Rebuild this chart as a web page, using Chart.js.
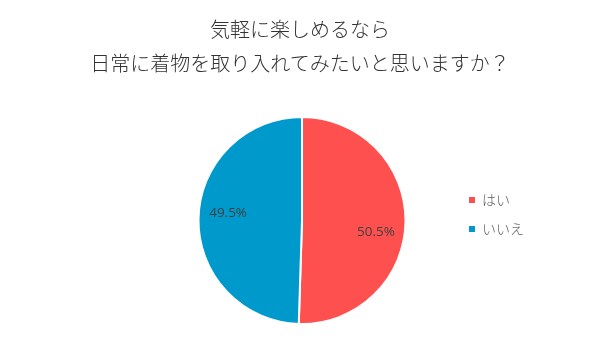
<!DOCTYPE html>
<html><head><meta charset="utf-8">
<script src="https://cdn.jsdelivr.net/npm/chart.js@4/dist/chart.umd.min.js"></script>
<style>
html,body{margin:0;padding:0;background:#fff}
#wrap{position:relative;width:600px;height:360px}
#title{position:absolute;left:0;top:12px;width:600px;text-align:center;font-family:"Noto Sans CJK JP",sans-serif;font-weight:300;font-size:20px;line-height:34px;color:#333}
canvas{position:absolute;left:0;top:0}
</style>
</head><body><div id="wrap"><canvas id="c" width="600" height="360"></canvas><div id="title"></div></div>
<script>
const titleLines = ['気軽に楽しめるなら', '日常に着物を取り入れてみたいと思いますか？'];
const categories = ['はい', 'いいえ'];
const values = [50.5, 49.5];
const colors = ['#FF5050', '#0099CC'];

const titleEl = document.getElementById('title');
titleLines.forEach(t => { const d = document.createElement('div'); d.textContent = t; titleEl.appendChild(d); });

const pctLabels = {
  id: 'pctLabels',
  afterDatasetsDraw(chart) {
    const ctx = chart.ctx;
    const meta = chart.getDatasetMeta(0);
    ctx.save();
    ctx.font = '13.5px "Open Sans", sans-serif';
    ctx.fillStyle = '#404040';
    ctx.textAlign = 'center';
    ctx.textBaseline = 'middle';
    meta.data.forEach((arc, i) => {
      const p = arc.getProps(['x','y','startAngle','endAngle','outerRadius'], true);
      const mid = (p.startAngle + p.endAngle) / 2 + 6.5 * Math.PI / 180;
      const r = p.outerRadius * 0.72;
      ctx.fillText(values[i].toFixed(1) + '%', p.x + Math.cos(mid) * r, p.y + Math.sin(mid) * r + 2);
    });
    ctx.restore();
  }
};

const legendShift = {
  id: 'legendShift',
  afterLayout(chart) {
    if (chart.legend) { chart.legend.top -= 6; chart.legend.bottom -= 6; }
  }
};

new Chart(document.getElementById('c'), {
  type: 'pie',
  data: { labels: categories, datasets: [{ data: values, backgroundColor: colors, borderColor: '#ffffff', borderWidth: 2 }] },
  options: {
    responsive: false,
    animation: false,
    layout: { padding: { left: 150, right: 66, top: 116, bottom: 35 } },
    plugins: {
      tooltip: { enabled: false },
      title: { display: false },
      legend: {
        position: 'right',
        labels: {
          boxWidth: 6, boxHeight: 6, padding: 15,
          color: '#595959',
          font: { family: '"Noto Sans CJK JP", sans-serif', size: 14, weight: '300' },
          generateLabels(chart) {
            const items = Chart.overrides.pie.plugins.legend.labels.generateLabels(chart);
            items.forEach(it => { it.lineWidth = 0; it.strokeStyle = it.fillStyle; });
            return items;
          }
        }
      }
    }
  },
  plugins: [pctLabels, legendShift]
});
</script></body></html>
